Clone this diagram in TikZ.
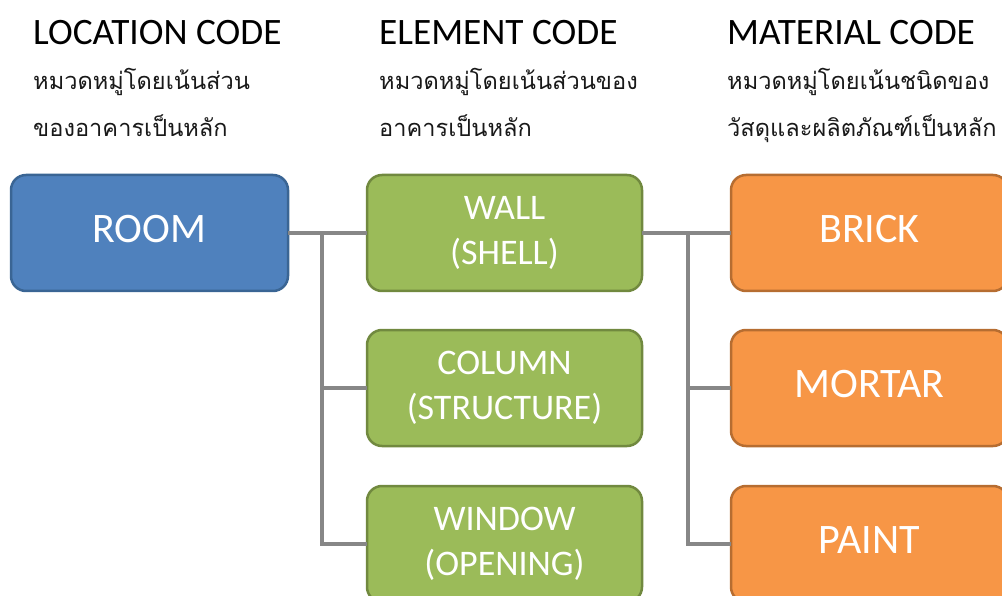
\documentclass[tikz,border=0pt]{standalone}
\usepackage{fontspec}
\setmainfont{Carlito}
\newfontfamily\thaifont[Script=Thai]{Loma}
\usetikzlibrary{positioning}

\definecolor{roomfill}{HTML}{4F81BD}
\definecolor{roomline}{HTML}{3A6594}
\definecolor{elemfill}{HTML}{9BBB59}
\definecolor{elemline}{HTML}{71893F}
\definecolor{matfill}{HTML}{F79646}
\definecolor{matline}{HTML}{B66D31}
\definecolor{conngray}{HTML}{878787}

\tikzset{
    codebox/.style={rounded corners=15pt, line width=2.5pt, minimum width=277pt,
        minimum height=116pt, inner sep=0pt, outer sep=0pt, text=white, align=center,
        font=\fontsize{36}{45}\selectfont},
    bigtext/.style={font=\fontsize{42}{50}\selectfont, text depth=8pt},
    roombox/.style={codebox, fill=roomfill, draw=roomline},
    elembox/.style={codebox, minimum width=275pt, fill=elemfill, draw=elemline},
    matbox/.style={codebox, fill=matfill, draw=matline},
    headtext/.style={anchor=base west, inner sep=0pt, font=\fontsize{37.3}{40}\selectfont},
    desctext/.style={anchor=base west, inner sep=0pt, text=black!90, font=\thaifont\fontsize{23.6}{28}\selectfont},
    conn/.style={draw=conngray, line width=4pt}
}

\begin{document}
\begin{tikzpicture}[x=1pt,y=-1pt]
    \useasboundingbox (0,0) rectangle (1002,596);
    \clip (0,0) rectangle (1002,596);

    % headings
    \node[headtext] (lochead) at (33,45) {LOCATION CODE};
    \node[desctext] (locdescA) at (33,90) {หมวดหมู่โดยเน้นส่วน};
    \node[desctext] (locdescB) at (33,137) {ของอาคารเป็นหลัก};
    \node[headtext] (elemhead) at (379,45) {ELEMENT CODE};
    \node[desctext] (elemdescA) at (379,90) {หมวดหมู่โดยเน้นส่วนของ};
    \node[desctext] (elemdescB) at (379,137) {อาคารเป็นหลัก};
    \node[headtext] (mathead) at (727,45) {MATERIAL CODE};
    \node[desctext] (matdescA) at (727,90) {หมวดหมู่โดยเน้นชนิดของ};
    \node[desctext] (matdescB) at (727,137) {วัสดุและผลิตภัณฑ์เป็นหลัก};

    % boxes
    \node[roombox, bigtext] (room) at (149.5,233) {ROOM};
    \node[elembox, right=79pt of room] (wall) {WALL\\(SHELL)};
    \node[elembox, below=39pt of wall] (column) {COLUMN\\(STRUCTURE)};
    \node[elembox, below=40pt of column] (window) {WINDOW\\(OPENING)};
    \node[matbox, bigtext, right=89pt of wall] (brick) {BRICK};
    \node[matbox, bigtext, below=39pt of brick] (mortar) {MORTAR};
    \node[matbox, bigtext, below=40pt of mortar] (paint) {PAINT};

    % connectors
    \coordinate[right=34pt of room.east] (roomjoint);
    \coordinate[right=46pt of wall.east] (walljoint);
    \draw[conn] (room.east) -- (wall.west);
    \draw[conn] (roomjoint) |- (column.west);
    \draw[conn] (roomjoint) |- (window.west);
    \draw[conn] (wall.east) -- (brick.west);
    \draw[conn] (walljoint) |- (mortar.west);
    \draw[conn] (walljoint) |- (paint.west);
\end{tikzpicture}
\end{document}
